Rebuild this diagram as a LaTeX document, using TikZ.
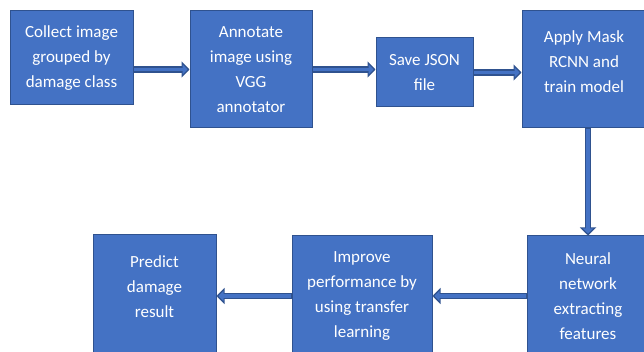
\documentclass[tikz,border=0pt]{standalone}
\usepackage{fontspec}
\setmainfont{Carlito}
\usetikzlibrary{arrows.meta}
\definecolor{boxfill}{HTML}{4472C4}
\definecolor{edge}{HTML}{2F528F}
\begin{document}
\begin{tikzpicture}[x=1pt,y=-1pt,
  box/.style={draw=edge, line width=1pt, fill=boxfill, text=white, align=center,
    inner sep=2pt, font=\fontsize{17}{25}\selectfont},
  arr/.style={draw=edge, line width=6.5pt, -{Triangle[length=8pt,width=16pt]},
    postaction={draw=boxfill, line width=3.5pt, -{Triangle[length=5pt,width=10pt]}, shorten >=2pt, shorten <=0.6pt}},
  tlabel/.style={text=white, align=center, font=\fontsize{17}{25}\selectfont}]
\useasboundingbox (0,0) rectangle (644,352);
\clip (0,0) rectangle (644,352);
\fill[white] (0,0) rectangle (644,352);
\node[box, minimum width=123pt, minimum height=94pt] (b1) at (71.5,58) {Collect image\\grouped by\\damage class};
\node[box, minimum width=122pt, minimum height=117pt] (b2) at (251,69.5) {Annotate\\image using\\VGG\\annotator};
\node[box, minimum width=97pt, minimum height=69pt] (b3) at (424.5,72.5) {Save JSON\\file};
\node[box, minimum width=124pt, minimum height=117pt] (b4) at (584,69.5) {};
\node[tlabel] (t4) at (584,62) {Apply Mask\\RCNN and\\train model};
\node[box, minimum width=122pt, minimum height=120pt] (b5) at (588,296) {Neural\\network\\extracting\\features};
\node[box, minimum width=140pt, minimum height=120pt] (b6) at (362,296) {Improve\\performance by\\using transfer\\learning};
\node[box, minimum width=123pt, minimum height=122pt] (b7) at (154.5,296) {};
\node[tlabel] (t7) at (154.5,287) {Predict\\damage\\result};
\draw[arr] (b1.east |- b2.west) -- (b2.west);
\draw[arr] (b2.east) -- (b3.west |- b2.east);
\draw[arr] (b3.east) -- (b4.west |- b3.east);
\draw[arr] (b4.south -| b5.north) -- (b5.north);
\draw[arr] (b5.west) -- (b6.east);
\draw[arr] (b6.west) -- (b7.east |- b6.west);
\end{tikzpicture}
\end{document}
